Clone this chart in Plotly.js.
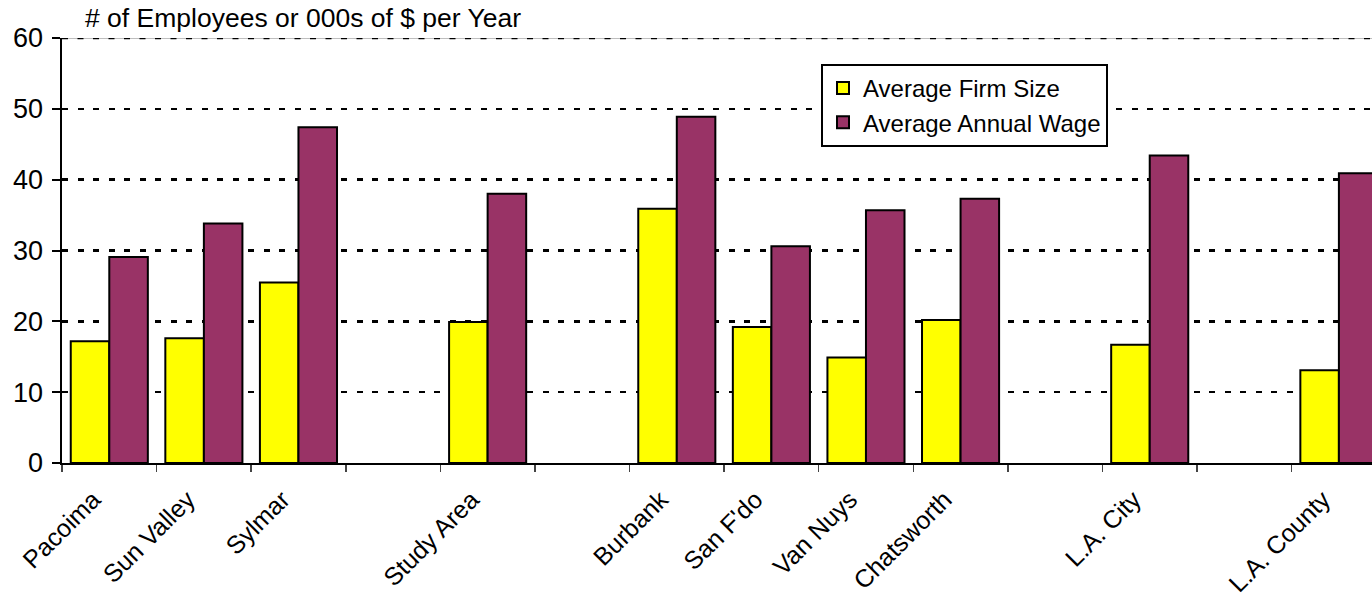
<!DOCTYPE html>
<html>
<head>
<meta charset="utf-8">
<script src="https://cdn.plot.ly/plotly-3.0.1.min.js"></script>
<style>
  html, body { margin: 0; padding: 0; background: #ffffff; }
  #chart { width: 1372px; height: 597px; }
</style>
</head>
<body>
<div id="chart"></div>
<script>
// Areas along the x axis; the blank slots are spacer columns between groups
const categories = ['Pacoima', 'Sun Valley', 'Sylmar', ' ', 'Study Area', '  ',
  'Burbank', "San F'do", 'Van Nuys', 'Chatsworth', '   ', 'L.A. City', '    ', 'L.A. County'];

// Average firm size (# of employees)
const firmSize = [17.2, 17.6, 25.5, null, 19.9, null,
  35.9, 19.2, 14.9, 20.2, null, 16.7, null, 13.1];

// Average annual wage (000s of $)
const annualWage = [29.1, 33.8, 47.4, null, 38.0, null,
  48.9, 30.6, 35.7, 37.3, null, 43.4, null, 40.9];

const seriesNames = ['Average Firm Size', 'Average Annual Wage'];
const yTicks = [0, 10, 20, 30, 40, 50, 60];
const axisTitle = '# of Employees or 000s of $ per Year';

const FONT = 'Arial, "Liberation Sans", sans-serif';
const GRID_DASH = '6px,9.5px';

const traces = [
  {
    type: 'bar',
    name: seriesNames[0],
    x: categories,
    y: firmSize,
    legendgroup: 'a',
    marker: { color: '#FFFF00', line: { color: '#000000', width: 2 } },
    hoverinfo: 'x+y'
  },
  {
    type: 'bar',
    name: seriesNames[1],
    x: categories,
    y: annualWage,
    legendgroup: 'b',
    marker: { color: '#993366', line: { color: '#000000', width: 2 } },
    hoverinfo: 'x+y'
  }
];

const layout = {
  width: 1372,
  height: 597,
  margin: { l: 62, r: 0, t: 38, b: 134, pad: 0 },
  paper_bgcolor: '#ffffff',
  plot_bgcolor: '#ffffff',
  font: { family: FONT, size: 25, color: '#000000' },
  barmode: 'group',
  bargap: 0.185,
  bargroupgap: 0,
  showlegend: true,
  legend: {
    x: (821 - 62) / 1310,
    y: (463 - 64) / 425,
    xanchor: 'left',
    yanchor: 'top',
    bgcolor: '#ffffff',
    bordercolor: '#000000',
    borderwidth: 2,
    font: { family: FONT, size: 24, color: '#000000' },
    traceorder: 'grouped',
    tracegroupgap: 0
  },
  xaxis: {
    type: 'category',
    categoryorder: 'array',
    categoryarray: categories,
    range: [-0.5, 13.35],
    tickson: 'boundaries',
    ticks: 'outside',
    ticklen: 7,
    tickwidth: 1.5,
    tickcolor: '#444444',
    tickangle: -45,
    ticklabelstandoff: 10,
    ticklabelshift: -16,
    tickfont: { family: FONT, size: 25, color: '#000000' },
    showgrid: false,
    showline: true,
    linecolor: '#000000',
    linewidth: 2,
    zeroline: false,
    fixedrange: true
  },
  yaxis: {
    range: [0, 60],
    tickvals: yTicks,
    ticktext: yTicks.map(String),
    ticks: 'outside',
    ticklen: 8,
    tickwidth: 2,
    tickcolor: '#000000',
    ticklabelstandoff: 3,
    tickfont: { family: FONT, size: 27, color: '#000000' },
    showgrid: true,
    gridcolor: '#000000',
    gridwidth: 2.5,
    griddash: GRID_DASH,
    showline: true,
    linecolor: '#000000',
    linewidth: 2.5,
    zeroline: false,
    fixedrange: true
  },
  annotations: [
    {
      text: axisTitle,
      xref: 'paper',
      yref: 'paper',
      x: 0,
      y: 1 + (38 - 18) / 425,
      xanchor: 'left',
      yanchor: 'middle',
      xshift: 21,
      showarrow: false,
      font: { family: FONT, size: 26.5, color: '#000000' }
    }
  ],
  shapes: [
    // thin frame line along the top of the plot area
    {
      type: 'line',
      layer: 'below',
      xref: 'paper',
      yref: 'y',
      x0: 0, x1: 1,
      y0: 60, y1: 60,
      line: { color: '#7f7f7f', width: 1 }
    },
    // dashed gridline at the top value
    {
      type: 'line',
      layer: 'below',
      xref: 'paper',
      yref: 'y',
      x0: 0, x1: 1,
      y0: 60, y1: 60,
      line: { color: '#000000', width: 2.5, dash: GRID_DASH }
    }
  ]
};

Plotly.newPlot('chart', traces, layout, { displayModeBar: false, staticPlot: true });
</script>
</body>
</html>
